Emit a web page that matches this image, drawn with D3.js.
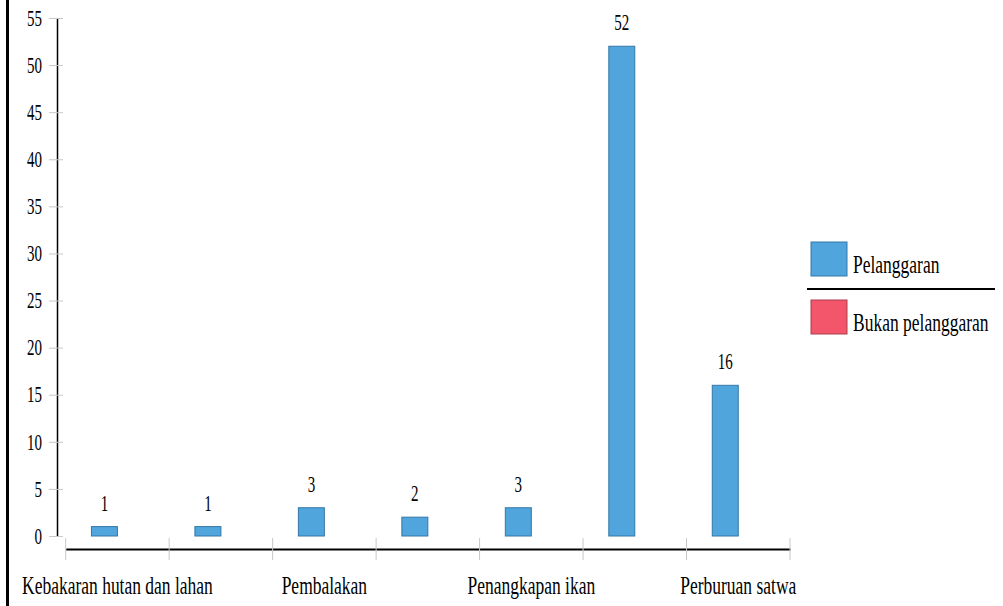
<!DOCTYPE html>
<html>
<head>
<meta charset="utf-8">
<script src="https://cdn.jsdelivr.net/npm/d3@7"></script>
<style>
  body { margin: 0; background: #fff; }
  svg { display: block; }
  svg text { font-family: "Liberation Serif", "Times New Roman", serif; fill: #000; }
</style>
</head>
<body>
<div class="chart"></div>
<script>
/* DATA */
// hidden categories (2nd, 4th, 6th) have no visible label in the picture
const categories = ["Kebakaran hutan dan lahan", "Lainnya", "Pembalakan", "Penambangan",
  "Penangkapan ikan", "Perambahan", "Perburuan satwa"];
const seriesNames = ["Pelanggaran", "Bukan pelanggaran"];
const pelanggaran = [1, 1, 3, 2, 3, 52, 16];
const bukanPelanggaran = [0, 0, 0, 0, 0, 0, 0];
const yTicks = [0, 5, 10, 15, 20, 25, 30, 35, 40, 45, 50, 55];

const colors = { "Pelanggaran": "#4fa5dc", "Bukan pelanggaran": "#f3566b" };
const strokes = { "Pelanggaran": "#3478a8", "Bukan pelanggaran": "#a83e4e" };

const width = 1003, height = 606;
const stretch = 1.5; // text in the picture is drawn tall and narrow

const svg = d3.select(".chart").append("svg")
  .attr("width", width)
  .attr("height", height);

// left frame line
svg.append("rect").attr("x", 6).attr("y", 0).attr("width", 3).attr("height", height).attr("fill", "#000");

/* SCALES */
const y = d3.scaleLinear().domain([0, 55]).range([536, 18]);
const x = d3.scaleBand().domain(categories).range([65.7, 790]).paddingInner(0).paddingOuter(0);
const xSub = d3.scaleBand().domain(seriesNames).range([0, x.bandwidth()]).paddingInner(0).paddingOuter(0.99);

const rows = categories.map((c, i) => ({ cat: c, values: [
  { key: "Pelanggaran", value: pelanggaran[i] },
  { key: "Bukan pelanggaran", value: bukanPelanggaran[i] }
]}));

/* Y AXIS */
const yAxis = svg.append("g")
  .attr("transform", "translate(57,0)")
  .call(d3.axisLeft(y).tickValues(yTicks).tickSize(0).tickSizeOuter(0).tickPadding(15));
yAxis.select(".domain").attr("stroke", "#000").attr("stroke-width", 1.5);
yAxis.selectAll(".tick").append("line")
  .attr("x1", -8).attr("x2", 6)
  .attr("stroke", "#c8c8c8");
yAxis.selectAll(".tick text")
  .style("font-size", "15px")
  .attr("transform", `scale(1,${stretch})`);

/* X AXIS */
const xAxis = svg.append("g")
  .attr("transform", "translate(0,549)")
  .call(d3.axisBottom(x).tickSize(0).tickSizeOuter(0)
    .tickFormat((d, i) => i % 2 === 0 ? d : ""));
xAxis.select(".domain").attr("stroke", "#000").attr("stroke-width", 2);
xAxis.selectAll(".tick text")
  .style("font-size", "17.5px")
  .attr("y", 0).attr("dy", 0)
  .attr("transform", `translate(0,45) scale(1,${stretch})`);

const bounds = categories.map(c => x(c)).concat([x.range()[1]]);
xAxis.selectAll(".sep")
  .data(bounds)
  .enter()
  .append("line")
  .attr("class", "sep")
  .attr("x1", d => d).attr("x2", d => d)
  .attr("y1", -11).attr("y2", 11)
  .attr("stroke", "#c8c8c8");

/* BARS */
const groups = svg.selectAll(".grp")
  .data(rows)
  .enter()
  .append("g")
  .attr("class", "grp")
  .attr("transform", d => `translate(${x(d.cat)},0)`);

groups.selectAll("rect")
  .data(d => d.values.filter(v => v.value > 0))
  .enter()
  .append("rect")
  .attr("x", d => xSub(d.key))
  .attr("y", d => y(d.value))
  .attr("width", xSub.bandwidth())
  .attr("height", d => y(0) - y(d.value))
  .attr("fill", d => colors[d.key])
  .attr("stroke", d => strokes[d.key])
  .attr("stroke-width", 1);

groups.selectAll(".val")
  .data(d => d.values.filter(v => v.value > 0))
  .enter()
  .append("text")
  .attr("class", "val")
  .attr("text-anchor", "middle")
  .style("font-size", "15px")
  .attr("transform", d => `translate(${xSub(d.key) + xSub.bandwidth() / 2},${y(d.value) - 16}) scale(1,${stretch})`)
  .text(d => d.value);

/* LEGEND */
const legend = svg.append("g").attr("transform", "translate(811,242)");
const legItems = legend.selectAll(".leg")
  .data(seriesNames)
  .enter()
  .append("g")
  .attr("class", "leg")
  .attr("transform", (d, i) => `translate(0,${i * 58})`);
legItems.append("rect")
  .attr("width", 36).attr("height", 34)
  .attr("fill", d => colors[d])
  .attr("stroke", d => strokes[d]);
legItems.append("text")
  .style("font-size", "17.5px")
  .attr("transform", `translate(42,31) scale(1,${stretch})`)
  .text(d => d);
legend.append("line")
  .attr("x1", -4).attr("x2", 184)
  .attr("y1", 47).attr("y2", 47)
  .attr("stroke", "#000").attr("stroke-width", 2);
</script>
</body>
</html>
